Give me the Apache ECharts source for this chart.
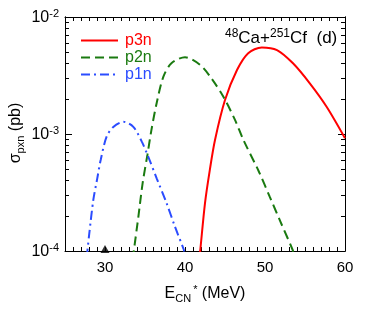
<!DOCTYPE html>
<html>
<head>
<meta charset="utf-8">
<script src="https://cdn.jsdelivr.net/npm/echarts@6/dist/echarts.min.js"></script>
<style>
  html, body { margin: 0; padding: 0; background: #fff; }
  #chart { width: 374px; height: 320px; }
</style>
</head>
<body>
<div id="chart"></div>
<script>
// p3n (red, solid)
const p3nE = [41.7, 41.9, 42.5, 43.1, 43.75, 45.0, 46.5, 47.9, 49.6, 51.5, 53.5, 55.6, 57.7, 60.0]
const p3nSigma = [0.75e-4, 1.0e-4, 2.57e-4, 4.92e-4, 8.89e-4, 1.95e-3, 3.52e-3, 4.9e-3, 5.5e-3, 5.22e-3, 4.02e-3, 2.71e-3, 1.71e-3, 9.2e-4]

// p2n (green, dashed)
const p2nE = [33.45, 33.6, 34.17, 34.7, 35.3, 35.8, 36.46, 37.3, 38.3, 40.0, 41.9, 43.3, 44.8, 46.25, 47.3, 49.2, 50.6, 51.9, 53.46, 53.6]
const p2nSigma = [0.85e-4, 1.0e-4, 1.96e-4, 3.79e-4, 6.62e-4, 1.08e-3, 1.84e-3, 3.09e-3, 4.02e-3, 4.53e-3, 3.89e-3, 2.99e-3, 2.08e-3, 1.32e-3, 8.89e-4, 4.83e-4, 2.9e-4, 1.8e-4, 1.02e-4, 0.94e-4]

// p1n (blue, dash-dot)
const p1nE = [27.7, 27.8, 28.04, 28.54, 29.04, 29.46, 30.2, 31.04, 32.3, 33.54, 34.6, 35.4, 36.46, 37.7, 38.75, 39.8, 39.9]
const p1nSigma = [0.88e-4, 1.0e-4, 1.42e-4, 2.73e-4, 4.2e-4, 6.0e-4, 9.5e-4, 1.15e-3, 1.27e-3, 1.15e-3, 8.6e-4, 6.4e-4, 4.18e-4, 2.56e-4, 1.61e-4, 1.05e-4, 0.99e-4]

// experimental point (triangle on the axis)
const expE = [30]
const expSigma = [1e-4]

const xLabels = [30, 40, 50, 60]
const yMajor = [1e-4, 1e-3, 1e-2]
const yMinor = [2e-4, 3e-4, 4e-4, 5e-4, 6e-4, 7e-4, 8e-4, 9e-4,
  2e-3, 3e-3, 4e-3, 5e-3, 6e-3, 7e-3, 8e-3, 9e-3]

const zip = (xs, ys) => xs.map((x, i) => [x, ys[i]])

const font = 'Liberation Sans, Arial, sans-serif'
const chart = echarts.init(document.getElementById('chart'), null, { renderer: 'canvas' })

const frameLine = { show: true, lineStyle: { color: '#000', width: 1 } }

const yAxisBase = (position, ticks, len, labels) => ({
  type: 'log',
  logBase: 10,
  min: 1e-4,
  max: 1e-2,
  position: position,
  gridIndex: 0,
  axisLine: frameLine,
  splitLine: { show: false },
  axisTick: { show: true, inside: true, length: len, customValues: ticks, lineStyle: { color: '#000' } },
  axisLabel: labels ? {
    show: true,
    customValues: yMajor,
    margin: 6,
    fontFamily: font,
    formatter: v => '{b|10}{s|' + Math.round(Math.log10(v)) + '}',
    rich: {
      b: { fontSize: 16, color: '#000', fontFamily: font, lineHeight: 18, verticalAlign: 'bottom' },
      s: { fontSize: 11, color: '#000', fontFamily: font, lineHeight: 18, verticalAlign: 'top', padding: [0, 0, 12, 0] }
    }
  } : { show: false }
})

chart.setOption({
  animation: false,
  backgroundColor: '#fff',
  grid: { left: 65, right: 29, top: 17, bottom: 69 },
  legend: {
    orient: 'vertical',
    left: 75,
    top: 27,
    itemWidth: 37,
    itemHeight: 14,
    itemGap: 0,
    itemStyle: { opacity: 0 },
    textStyle: { fontSize: 16, fontFamily: font, lineHeight: 17, padding: [0, 0, 0, 2] },
    data: [
      { name: 'p3n', textStyle: { color: '#ff0000' } },
      { name: 'p2n', textStyle: { color: '#1a7a10' } },
      { name: 'p1n', textStyle: { color: '#2b4cff' } }
    ]
  },
  xAxis: [
    {
      type: 'value',
      position: 'bottom',
      min: 25,
      max: 60,
      interval: 1,
      axisLine: frameLine,
      splitLine: { show: false },
      axisTick: { show: true, inside: true, length: 4, lineStyle: { color: '#000' } },
      axisLabel: {
        show: true,
        margin: 9,
        fontSize: 15,
        color: '#000',
        fontFamily: font,
        formatter: v => (xLabels.indexOf(v) >= 0 ? String(v) : '')
      }
    },
    {
      type: 'value',
      position: 'top',
      min: 25,
      max: 60,
      interval: 1,
      axisLine: frameLine,
      splitLine: { show: false },
      axisTick: { show: true, inside: true, length: 4, lineStyle: { color: '#000' } },
      axisLabel: { show: false }
    }
  ],
  yAxis: [
    yAxisBase('left', yMajor, 7, true),
    yAxisBase('left', yMinor, 4, false),
    yAxisBase('right', yMajor, 7, false),
    yAxisBase('right', yMinor, 4, false)
  ],
  series: [
    {
      name: 'p3n',
      type: 'line',
      smooth: 0.3,
      symbol: 'none',
      data: zip(p3nE, p3nSigma),
      lineStyle: { color: '#ff0000', width: 2 },
      itemStyle: { color: '#ff0000' }
    },
    {
      name: 'p2n',
      type: 'line',
      smooth: 0.3,
      symbol: 'none',
      data: zip(p2nE, p2nSigma),
      lineStyle: { color: '#1a7a10', width: 2, type: [9, 5] },
      itemStyle: { color: '#1a7a10' }
    },
    {
      name: 'p1n',
      type: 'line',
      smooth: 0.3,
      symbol: 'none',
      data: zip(p1nE, p1nSigma),
      lineStyle: { color: '#2b4cff', width: 2, type: [9, 4, 2, 4] },
      itemStyle: { color: '#2b4cff' }
    },
    {
      name: 'exp',
      type: 'scatter',
      symbol: 'triangle',
      symbolSize: [9, 8],
      symbolOffset: [0, -2],
      clip: false,
      data: zip(expE, expSigma),
      itemStyle: { color: '#000' },
      z: 5
    }
  ],
  graphic: [
    {
      type: 'text',
      x: 205,
      y: 294,
      style: {
        text: '{b|E}{sub|CN}{sup|*}{b| (MeV)}',
        align: 'center',
        verticalAlign: 'middle',
        rich: {
          b: { fontSize: 16, fontFamily: font, fill: '#000', lineHeight: 20, verticalAlign: 'middle' },
          sub: { fontSize: 11, fontFamily: font, fill: '#000', lineHeight: 20, verticalAlign: 'bottom', padding: [8, 0, 0, 0] },
          sup: { fontSize: 11, fontFamily: font, fill: '#000', lineHeight: 20, verticalAlign: 'top', padding: [0, 0, 8, 2] }
        }
      }
    },
    {
      type: 'text',
      x: 16,
      y: 133,
      rotation: Math.PI / 2,
      style: {
        text: '{b|σ}{sub|pxn}{b| (pb)}',
        align: 'center',
        verticalAlign: 'middle',
        rich: {
          b: { fontSize: 16, fontFamily: font, fill: '#000', lineHeight: 20, verticalAlign: 'middle' },
          sub: { fontSize: 11, fontFamily: font, fill: '#000', lineHeight: 20, verticalAlign: 'bottom', padding: [8, 0, 0, 0] }
        }
      }
    },
    {
      type: 'text',
      x: 225,
      y: 38,
      style: {
        text: '{sup|48}{b|Ca+}{sup|251}{b|Cf  (d)}',
        align: 'left',
        verticalAlign: 'middle',
        rich: {
          b: { fontSize: 17, fontFamily: font, fill: '#000', lineHeight: 20, verticalAlign: 'middle' },
          sup: { fontSize: 12, fontFamily: font, fill: '#000', lineHeight: 20, verticalAlign: 'top', padding: [0, 0, 8, 0] }
        }
      }
    }
  ]
})
</script>
</body>
</html>
